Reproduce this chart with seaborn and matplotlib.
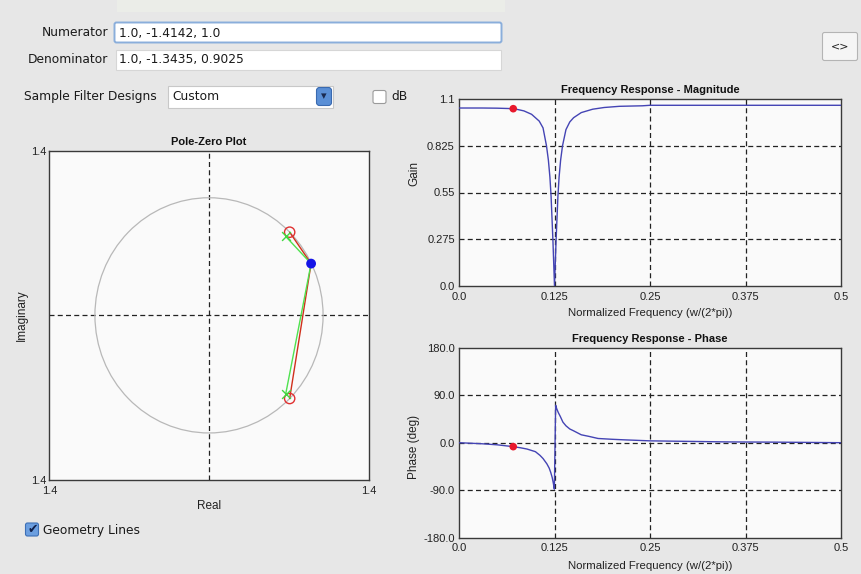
import matplotlib
matplotlib.use("Agg")
import matplotlib.pyplot as plt
from matplotlib.patches import Rectangle, FancyBboxPatch, Circle
import seaborn as sns
import pandas as pd

# ---------------- data ----------------
numerator_text = "1.0, -1.4142, 1.0"
denominator_text = "1.0, -1.3435, 0.9025"
design_choice = "Custom"

mag_freq = [0.0, 0.03, 0.05, 0.065, 0.075, 0.085, 0.095, 0.1, 0.105, 0.11, 0.1145,
            0.117, 0.119, 0.1205, 0.122, 0.123, 0.124, 0.125, 0.126, 0.127, 0.128,
            0.1295, 0.131, 0.133, 0.1355, 0.14, 0.145, 0.15, 0.16, 0.175, 0.19, 0.21,
            0.24, 0.25, 0.3, 0.4, 0.5]
mag_gain = [1.047, 1.047, 1.046, 1.044, 1.04, 1.03, 1.01, 0.99, 0.97, 0.93, 0.825,
            0.74, 0.64, 0.53, 0.37, 0.26, 0.13, 0.0, 0.13, 0.26, 0.37,
            0.53, 0.64, 0.74, 0.825, 0.92, 0.965, 0.99, 1.02, 1.04, 1.05, 1.057,
            1.06, 1.063, 1.063, 1.063, 1.063]

phase_freq = [0.0, 0.015, 0.03, 0.05, 0.071, 0.08, 0.089, 0.1, 0.106, 0.11, 0.115,
              0.118, 0.12, 0.122, 0.1235, 0.1248, 0.1265, 0.128, 0.13, 0.1325, 0.136,
              0.14, 0.145, 0.15, 0.16, 0.17, 0.182, 0.2, 0.215, 0.25, 0.3, 0.35, 0.42, 0.5]
phase_deg = [0, -1, -2, -4, -7.5, -9.5, -12, -17, -24, -30, -40,
             -48, -56, -66, -77, -88, 71, 64, 57, 50, 39,
             32, 26, 22.5, 15, 12, 8, 6.5, 5.5, 3.5, 2.5, 1.5, 1, 0]

eval_freq = [0.071]
eval_gain = [1.043]
eval_phase = [-7.5]

zeros_re = [0.7071, 0.7071]
zeros_im = [0.7071, -0.7071]
poles_re = [0.6718, 0.6718]
poles_im = [0.6718, -0.6718]
point_re = [0.895]
point_im = [0.44]

mag_yticks = [0.0, 0.275, 0.55, 0.825, 1.1]
mag_yticklabels = ["0.0", "0.275", "0.55", "0.825", "1.1"]
freq_ticks = [0.0, 0.125, 0.25, 0.375, 0.5]
freq_ticklabels = ["0.0", "0.125", "0.25", "0.375", "0.5"]
phase_ticks = [-180, -90, 0, 90, 180]
phase_ticklabels = ["-180.0", "-90.0", "0.0", "90.0", "180.0"]
pz_ticks = [-1.4, 1.4]
pz_ticklabels = ["1.4", "1.4"]

# ---------------- style ----------------
sns.set_theme(style="white")
plt.rcParams["font.family"] = ["Liberation Sans", "DejaVu Sans"]

W, H = 861, 574
BG = "#e7e7e7"
FACE = "#fafafa"
CURVE = "#4444b4"
GRID = dict(color="#222222", lw=0.9, ls=(0, (4, 2.6)))
SPINE = "#3a3a3a"

fig = plt.figure(figsize=(W / 100, H / 100), dpi=100, facecolor=BG)

def px_axes(x0, y0, x1, y1):
    return fig.add_axes([x0 / W, 1 - y1 / H, (x1 - x0) / W, (y1 - y0) / H])

# background UI layer
ui = fig.add_axes([0, 0, 1, 1], zorder=0)
ui.set_xlim(0, W)
ui.set_ylim(H, 0)
ui.axis("off")
ui.set_facecolor(BG)

UIFONT = ["DejaVu Sans"]
ui.add_patch(Rectangle((117, 0), 388, 12, facecolor="#ebede8", edgecolor="none"))
ui.text(108, 32.5, "Numerator", ha="right", va="center", fontsize=8.8, family=UIFONT, color="#1a1a1a")
ui.add_patch(FancyBboxPatch((114.5, 22.5), 387, 20, boxstyle="round,pad=0,rounding_size=2",
                            facecolor="white", edgecolor="#8aaedb", lw=1.4))
ui.text(119, 33, numerator_text, ha="left", va="center", fontsize=8.8, family=UIFONT, color="#1a1a1a")
ui.text(108, 59.5, "Denominator", ha="right", va="center", fontsize=8.8, family=UIFONT, color="#1a1a1a")
ui.add_patch(Rectangle((115.5, 49.5), 385, 20, facecolor="white", edgecolor="#d6d6d6", lw=0.8))
ui.text(119, 60, denominator_text, ha="left", va="center", fontsize=8.8, family=UIFONT, color="#1a1a1a")

ui.text(24, 96.5, "Sample Filter Designs", ha="left", va="center", fontsize=8.8, family=UIFONT, color="#1a1a1a")
ui.add_patch(Rectangle((167.5, 85.5), 165, 22, facecolor="white", edgecolor="#c8c8c8", lw=0.8))
ui.text(172, 97, design_choice, ha="left", va="center", fontsize=8.8, family=UIFONT, color="#1a1a1a")
ui.add_patch(FancyBboxPatch((316.5, 87.5), 15, 18, boxstyle="round,pad=0,rounding_size=3",
                            facecolor="#5a8fd6", edgecolor="#3a6ab0", lw=0.8))
ui.text(324, 96.5, "\u25be", ha="center", va="center", fontsize=8, family=UIFONT, color="#1a2a50")
ui.add_patch(FancyBboxPatch((373, 90.5), 13, 13, boxstyle="round,pad=0,rounding_size=2",
                            facecolor="white", edgecolor="#9a9a9a", lw=0.8))
ui.text(391, 97, "dB", ha="left", va="center", fontsize=8.8, family=UIFONT, color="#1a1a1a")

ui.add_patch(FancyBboxPatch((822.5, 32.5), 35, 28, boxstyle="round,pad=0,rounding_size=2",
                            facecolor="#f5f5f5", edgecolor="#b4b4b4", lw=0.8))
ui.text(840, 46.5, "<>", ha="center", va="center", fontsize=8, family=UIFONT, color="#222222")

ui.add_patch(FancyBboxPatch((25.5, 523), 13, 13, boxstyle="round,pad=0,rounding_size=2",
                            facecolor="#6c9fe0", edgecolor="#3d6fb6", lw=0.8))
ui.text(32.5, 529, "\u2714", ha="center", va="center", fontsize=9, family=UIFONT, color="#10204a")
ui.text(43, 530.5, "Geometry Lines", ha="left", va="center", fontsize=8.8, family=UIFONT, color="#1a1a1a")

def style_axes(ax):
    ax.set_facecolor(FACE)
    for s in ax.spines.values():
        s.set_color(SPINE)
        s.set_linewidth(1.0)
    ax.tick_params(length=0, labelsize=8, colors="#222222")
    ax.tick_params(axis="y", pad=3)
    ax.tick_params(axis="x", pad=4)

# ---------------- pole-zero ----------------
axpz = px_axes(49.3, 150.7, 368.7, 480)
axpz.set_zorder(2)
style_axes(axpz)
axpz.set_xlim(-1.4, 1.4)
axpz.set_ylim(-1.4, 1.4)
axpz.axhline(0, **GRID, zorder=1)
axpz.axvline(0, **GRID, zorder=1)
axpz.add_patch(Circle((0, 0), 1.0, fill=False, edgecolor="#b8b8b8", lw=0.9, zorder=1))
for zr, zi in zip(zeros_re, zeros_im):
    sns.lineplot(x=[point_re[0], zr], y=[point_im[0], zi], ax=axpz, color="#d0301c", lw=1.0,
                 sort=False, estimator=None, zorder=3)
for pr, pi_ in zip(poles_re, poles_im):
    sns.lineplot(x=[point_re[0], pr], y=[point_im[0], pi_], ax=axpz, color="#4fe24f", lw=1.0,
                 sort=False, estimator=None, zorder=3)
axpz.scatter(zeros_re, zeros_im, s=55, facecolors="none", edgecolors="#e03030", linewidths=1.0, zorder=4)
sns.scatterplot(x=poles_re, y=poles_im, ax=axpz, marker="x", s=40, color="#40d840", linewidth=1.0, zorder=4)
sns.scatterplot(x=point_re, y=point_im, ax=axpz, s=50, color="#1414e6", edgecolor="none", zorder=5)
axpz.set_xticks(pz_ticks)
axpz.set_xticklabels(pz_ticklabels)
axpz.set_yticks(pz_ticks)
axpz.set_yticklabels(pz_ticklabels)
axpz.tick_params(axis="y", pad=2)
axpz.tick_params(axis="x", pad=4)
axpz.set_title("Pole-Zero Plot", fontsize=8, fontweight="bold", pad=4, color="#111111")
axpz.set_xlabel("Real", fontsize=8.5, labelpad=3, color="#222222")
axpz.set_ylabel("Imaginary", fontsize=8.5, labelpad=3, color="#222222")
axpz.yaxis.set_label_coords(-0.068, 0.5)

# ---------------- magnitude ----------------
axm = px_axes(459, 99, 841, 286)
axm.set_zorder(2)
style_axes(axm)
mag_df = pd.DataFrame({"freq": mag_freq, "gain": mag_gain})
sns.lineplot(data=mag_df, x="freq", y="gain", ax=axm, color=CURVE, lw=1.0, sort=False,
             estimator=None, zorder=3)
sns.scatterplot(x=eval_freq, y=eval_gain, ax=axm, s=30, color="#e8182c", edgecolor="none", zorder=4)
axm.set_xlim(0, 0.5)
axm.set_ylim(0, 1.1)
axm.set_xticks(freq_ticks)
axm.set_xticklabels(freq_ticklabels)
axm.set_yticks(mag_yticks)
axm.set_yticklabels(mag_yticklabels)
for t in freq_ticks[1:-1]:
    axm.axvline(t, **GRID, zorder=1)
for t in mag_yticks[1:-1]:
    axm.axhline(t, **GRID, zorder=1)
axm.set_title("Frequency Response - Magnitude", fontsize=8, fontweight="bold", pad=4, color="#111111")
axm.set_xlabel("Normalized Frequency (w/(2*pi))", fontsize=8.2, color="#222222")
axm.xaxis.set_label_coords(0.5, -0.115)
axm.set_ylabel("Gain", fontsize=8.5, color="#222222")
axm.yaxis.set_label_coords(-0.102, 0.60)

# ---------------- phase ----------------
axp = px_axes(459, 347.7, 841, 537.7)
axp.set_zorder(2)
style_axes(axp)
ph_df = pd.DataFrame({"freq": phase_freq, "phase": phase_deg})
sns.lineplot(data=ph_df, x="freq", y="phase", ax=axp, color=CURVE, lw=1.0, sort=False,
             estimator=None, zorder=3)
sns.scatterplot(x=eval_freq, y=eval_phase, ax=axp, s=30, color="#e8182c", edgecolor="none", zorder=4)
axp.set_xlim(0, 0.5)
axp.set_ylim(-180, 180)
axp.set_xticks(freq_ticks)
axp.set_xticklabels(freq_ticklabels)
axp.set_yticks(phase_ticks)
axp.set_yticklabels(phase_ticklabels)
for t in freq_ticks[1:-1]:
    axp.axvline(t, **GRID, zorder=1)
for t in phase_ticks[1:-1]:
    axp.axhline(t, **GRID, zorder=1)
axp.set_title("Frequency Response - Phase", fontsize=8, fontweight="bold", pad=4, color="#111111")
axp.set_xlabel("Normalized Frequency (w/(2*pi))", fontsize=8.2, color="#222222")
axp.xaxis.set_label_coords(0.5, -0.122)
axp.set_ylabel("Phase (deg)", fontsize=8.5, color="#222222")
axp.yaxis.set_label_coords(-0.102, 0.477)

fig.savefig("out.png", dpi=100, facecolor=BG)
